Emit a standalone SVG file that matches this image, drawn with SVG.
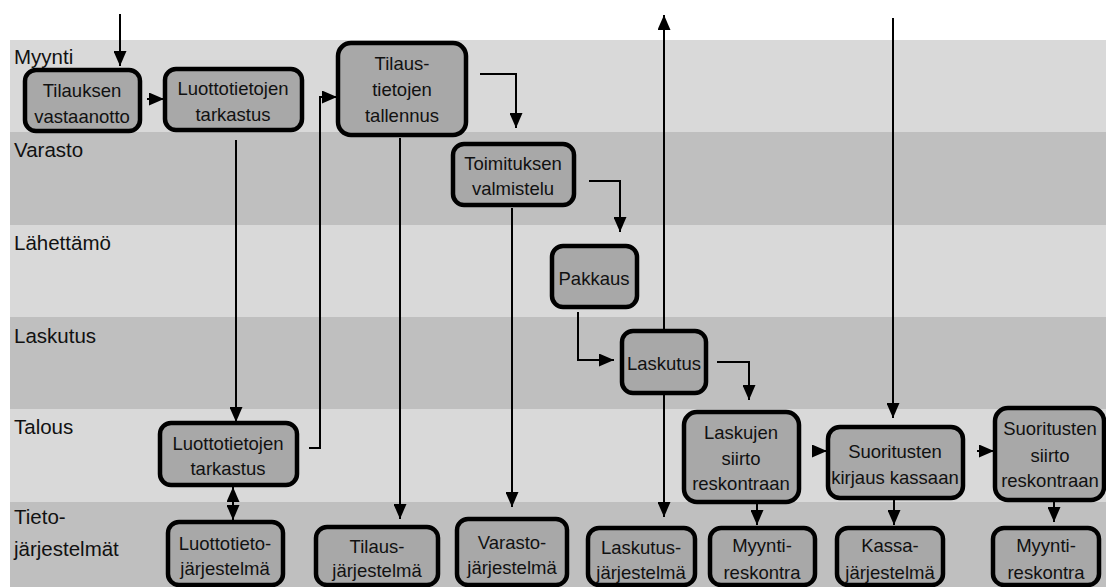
<svg xmlns="http://www.w3.org/2000/svg" width="1106" height="587" viewBox="0 0 1106 587">
<style>
.lane-l{fill:#d9d9d9}
.lane-d{fill:#bfbfbf}
.lbl{font-family:"Liberation Sans",Arial,sans-serif;font-size:20.5px;fill:#111}
.box{fill:#a8a8a8;stroke:#000;stroke-width:4.5}
.t{font-family:"Liberation Sans",Arial,sans-serif;font-size:18.5px;fill:#111;text-anchor:middle}
.c{fill:none;stroke:#000;stroke-width:2}
</style>
<defs>
<marker id="ah" markerUnits="userSpaceOnUse" markerWidth="15" markerHeight="13" refX="15" refY="6.5" orient="auto-start-reverse">
<path d="M0,0 L15,6.5 L0,13 z" fill="#000"/>
</marker>
</defs>
<rect width="1106" height="587" fill="#fff"/>
<g id="lanes">
<rect class="lane-l" x="10" y="40" width="1096" height="92"/>
<rect class="lane-d" x="10" y="132" width="1096" height="93"/>
<rect class="lane-l" x="10" y="225" width="1096" height="92"/>
<rect class="lane-d" x="10" y="317" width="1096" height="92"/>
<rect class="lane-l" x="10" y="409" width="1096" height="93"/>
<rect class="lane-d" x="10" y="502" width="1096" height="85"/>
<text class="lbl" x="14" y="64">Myynti</text>
<text class="lbl" x="14" y="157">Varasto</text>
<text class="lbl" x="14" y="250">Lähettämö</text>
<text class="lbl" x="14" y="343">Laskutus</text>
<text class="lbl" x="14" y="434">Talous</text>
<text class="lbl" x="14" y="524">Tieto-</text>
<text class="lbl" x="14" y="556">järjestelmät</text>
</g>
<g id="connectors">
<path class="c" d="M120,14 V66" marker-end="url(#ah)"/>
<path class="c" d="M147,99 H164" marker-end="url(#ah)"/>
<path class="c" d="M236,140 V422" marker-end="url(#ah)"/>
<path class="c" d="M309,448 H320 V97 H337" marker-end="url(#ah)"/>
<path class="c" d="M400,138 V519" marker-end="url(#ah)"/>
<path class="c" d="M480,74 H516 V128" marker-end="url(#ah)"/>
<path class="c" d="M512,208 V507" marker-end="url(#ah)"/>
<path class="c" d="M589,181 H620 V232" marker-end="url(#ah)"/>
<path class="c" d="M578,312 V360 H614" marker-end="url(#ah)"/>
<path class="c" d="M664,331 V15" marker-end="url(#ah)"/>
<path class="c" d="M664,394 V517" marker-end="url(#ah)"/>
<path class="c" d="M717,362 H749 V400" marker-end="url(#ah)"/>
<path class="c" d="M757,503 V525" marker-end="url(#ah)"/>
<path class="c" d="M812,451 H827" marker-end="url(#ah)"/>
<path class="c" d="M893,18 V418" marker-end="url(#ah)"/>
<path class="c" d="M894,500 V525" marker-end="url(#ah)"/>
<path class="c" d="M977,451 H994" marker-end="url(#ah)"/>
<path class="c" d="M1054,501 V522" marker-end="url(#ah)"/>
<path class="c" d="M233,487 V520" marker-start="url(#ah)" marker-end="url(#ah)"/>
</g>
<g id="n1"><rect class="box" x="25" y="70" width="115" height="61" rx="11"/><text class="t" x="82" y="97">Tilauksen</text><text class="t" x="82" y="123">vastaanotto</text></g>
<g id="n2"><rect class="box" x="165" y="69" width="137" height="61" rx="11"/><text class="t" x="233" y="95">Luottotietojen</text><text class="t" x="233" y="121">tarkastus</text></g>
<g id="n3"><rect class="box" x="338" y="43" width="128" height="92" rx="13"/><text class="t" x="402" y="70">Tilaus-</text><text class="t" x="402" y="96">tietojen</text><text class="t" x="402" y="122">tallennus</text></g>
<g id="n4"><rect class="box" x="453" y="144" width="121" height="61" rx="11"/><text class="t" x="513" y="170">Toimituksen</text><text class="t" x="513" y="195">valmistelu</text></g>
<g id="n5"><rect class="box" x="552" y="246" width="85" height="61" rx="11"/><text class="t" x="594" y="285">Pakkaus</text></g>
<g id="n6"><rect class="box" x="622" y="331" width="84" height="62" rx="11"/><text class="t" x="664" y="370">Laskutus</text></g>
<g id="n7"><rect class="box" x="160" y="423" width="137" height="62" rx="11"/><text class="t" x="228" y="450">Luottotietojen</text><text class="t" x="228" y="475">tarkastus</text></g>
<g id="n8"><rect class="box" x="168" y="522" width="115" height="63" rx="11"/><text class="t" x="225" y="550">Luottotieto-</text><text class="t" x="225" y="575">järjestelmä</text></g>
<g id="n9"><rect class="box" x="316" y="527" width="122" height="58" rx="11"/><text class="t" x="377" y="553">Tilaus-</text><text class="t" x="377" y="577">järjestelmä</text></g>
<g id="n10"><rect class="box" x="457" y="519" width="110" height="66" rx="11"/><text class="t" x="512" y="549">Varasto-</text><text class="t" x="512" y="574">järjestelmä</text></g>
<g id="n11"><rect class="box" x="588" y="528" width="107" height="57" rx="11"/><text class="t" x="641" y="554">Laskutus-</text><text class="t" x="641" y="579">järjestelmä</text></g>
<g id="n12"><rect class="box" x="710" y="528" width="105" height="57" rx="11"/><text class="t" x="762" y="552">Myynti-</text><text class="t" x="762" y="579">reskontra</text></g>
<g id="n13"><rect class="box" x="684" y="412" width="115" height="90" rx="13"/><text class="t" x="741" y="439">Laskujen</text><text class="t" x="741" y="465">siirto</text><text class="t" x="741" y="490">reskontraan</text></g>
<g id="n14"><rect class="box" x="828" y="427" width="135" height="71" rx="12"/><text class="t" x="895" y="458">Suoritusten</text><text class="t" x="895" y="484">kirjaus kassaan</text></g>
<g id="n15"><rect class="box" x="995" y="408" width="109" height="92" rx="13"/><text class="t" x="1050" y="435">Suoritusten</text><text class="t" x="1050" y="462">siirto</text><text class="t" x="1050" y="487">reskontraan</text></g>
<g id="n16"><rect class="box" x="837" y="528" width="106" height="57" rx="11"/><text class="t" x="890" y="552">Kassa-</text><text class="t" x="890" y="579">järjestelmä</text></g>
<g id="n17"><rect class="box" x="993" y="528" width="106" height="57" rx="11"/><text class="t" x="1046" y="552">Myynti-</text><text class="t" x="1046" y="579">reskontra</text></g>
</svg>
